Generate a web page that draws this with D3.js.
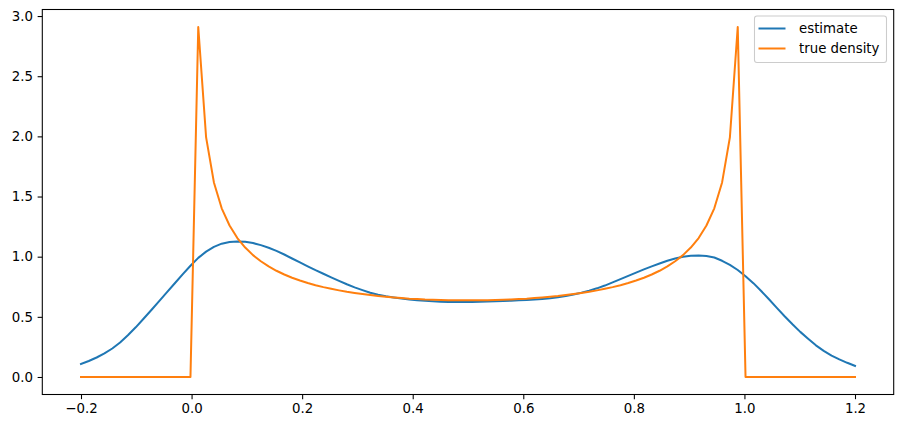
<!DOCTYPE html>
<html>
<head>
<meta charset="utf-8">
<script src="https://cdn.jsdelivr.net/npm/d3@7"></script>
<style>
  html, body { margin: 0; padding: 0; background: #fff; }
  svg { display: block; font-family: "DejaVu Sans", sans-serif; }
</style>
</head>
<body>
<svg id="chart" width="904" height="428"></svg>
<script>
// ---- data ----
const xGrid = [-0.2000,-0.1859,-0.1717,-0.1576,-0.1434,-0.1293,-0.1152,-0.1010,-0.0869,-0.0727,
  -0.0586,-0.0444,-0.0303,-0.0162,-0.0020,0.0121,0.0263,0.0404,0.0545,0.0687,
  0.0828,0.0970,0.1111,0.1253,0.1394,0.1535,0.1677,0.1818,0.1960,0.2101,
  0.2242,0.2384,0.2525,0.2667,0.2808,0.2949,0.3091,0.3232,0.3374,0.3515,
  0.3657,0.3798,0.3939,0.4081,0.4222,0.4364,0.4505,0.4646,0.4788,0.4929,
  0.5071,0.5212,0.5354,0.5495,0.5636,0.5778,0.5919,0.6061,0.6202,0.6343,
  0.6485,0.6626,0.6768,0.6909,0.7051,0.7192,0.7333,0.7475,0.7616,0.7758,
  0.7899,0.8040,0.8182,0.8323,0.8465,0.8606,0.8747,0.8889,0.9030,0.9172,
  0.9313,0.9455,0.9596,0.9737,0.9879,1.0020,1.0162,1.0303,1.0444,1.0586,
  1.0727,1.0869,1.1010,1.1152,1.1293,1.1434,1.1576,1.1717,1.1859,1.2000];

const estimate = [0.108,0.133,0.162,0.196,0.237,0.287,0.347,0.413,0.484,0.557,
  0.631,0.705,0.779,0.853,0.925,0.990,1.042,1.082,1.108,1.122,
  1.127,1.124,1.113,1.096,1.074,1.048,1.018,0.985,0.952,0.920,
  0.888,0.858,0.828,0.799,0.771,0.745,0.722,0.700,0.683,0.671,
  0.661,0.652,0.644,0.638,0.633,0.629,0.626,0.624,0.623,0.623,
  0.623,0.625,0.627,0.629,0.631,0.634,0.637,0.640,0.644,0.649,
  0.655,0.663,0.673,0.686,0.701,0.718,0.737,0.760,0.786,0.813,
  0.841,0.868,0.894,0.919,0.943,0.966,0.985,0.999,1.008,1.010,
  1.005,0.993,0.966,0.932,0.889,0.838,0.780,0.715,0.646,0.575,
  0.505,0.438,0.375,0.318,0.263,0.217,0.178,0.146,0.118,0.092];

const trueDensity = [0,0,0,0,0,0,0,0,0,0,
  0,0,0,0,0,2.909,1.991,1.617,1.402,1.259,
  1.155,1.076,1.013,0.962,0.919,0.883,0.852,0.825,0.802,0.781,
  0.763,0.747,0.733,0.720,0.708,0.698,0.689,0.681,0.673,0.667,
  0.661,0.656,0.651,0.648,0.644,0.642,0.640,0.638,0.637,0.637,
  0.637,0.637,0.638,0.640,0.642,0.644,0.648,0.651,0.656,0.661,
  0.667,0.673,0.681,0.689,0.698,0.708,0.720,0.733,0.747,0.763,
  0.781,0.802,0.825,0.852,0.883,0.919,0.962,1.013,1.076,1.155,
  1.259,1.402,1.617,1.991,2.909,0,0,0,0,0,
  0,0,0,0,0,0,0,0,0,0];

const xTicks = [-0.2, 0.0, 0.2, 0.4, 0.6, 0.8, 1.0, 1.2];
const yTicks = [0.0, 0.5, 1.0, 1.5, 2.0, 2.5, 3.0];
const seriesNames = ["estimate", "true density"];
const seriesColors = ["#1f77b4", "#ff7f0e"];

// ---- layout ----
const svg = d3.select("#chart");
const L = 42.3, R = 893.7, T = 9.5, B = 394.5;

const x = d3.scaleLinear().domain([-0.27, 1.27]).range([L, R]);
const y = d3.scaleLinear().domain([-0.1455, 3.0545]).range([B, T]);

const fmt = v => d3.format(".1f")(v).replace("-", "\u2212");

// lines
const line = d3.line().x(d => x(d[0])).y(d => y(d[1]));
const series = [estimate, trueDensity];
series.forEach((vals, i) => {
  svg.append("path")
    .datum(xGrid.map((xv, j) => [xv, vals[j]]))
    .attr("fill", "none")
    .attr("stroke", seriesColors[i])
    .attr("stroke-width", 2)
    .attr("stroke-linejoin", "round")
    .attr("stroke-linecap", "square")
    .attr("d", line);
});

// axes
const xAxis = d3.axisBottom(x).tickValues(xTicks).tickFormat(fmt).tickSize(4.67).tickPadding(4.67);
const yAxis = d3.axisLeft(y).tickValues(yTicks).tickFormat(fmt).tickSize(4.67).tickPadding(4.67);

const gx = svg.append("g").attr("transform", `translate(0,${B})`).call(xAxis);
const gy = svg.append("g").attr("transform", `translate(${L},0)`).call(yAxis);
[gx, gy].forEach(g => {
  g.select(".domain").remove();
  g.selectAll(".tick line").attr("stroke", "#000").attr("stroke-width", 1.07);
  g.selectAll(".tick text").attr("fill", "#000").style("font-size", "13.33px")
    .style("font-family", "'DejaVu Sans', sans-serif");
});

// frame
svg.append("rect")
  .attr("x", L).attr("y", T).attr("width", R - L).attr("height", B - T)
  .attr("fill", "none").attr("stroke", "#000").attr("stroke-width", 1.07);

// legend
const lg = svg.append("g");
lg.append("rect")
  .attr("x", 754.5).attr("y", 16).attr("width", 132).attr("height", 46.5)
  .attr("rx", 2.5).attr("ry", 2.5)
  .attr("fill", "#fff").attr("fill-opacity", 0.8)
  .attr("stroke", "#cccccc").attr("stroke-width", 1.07);
seriesNames.forEach((name, i) => {
  const yy = 28.5 + i * 20;
  lg.append("line")
    .attr("x1", 758.5).attr("x2", 785.5).attr("y1", yy).attr("y2", yy)
    .attr("stroke", seriesColors[i]).attr("stroke-width", 2);
  lg.append("text")
    .attr("x", 799).attr("y", yy + 4.7)
    .attr("fill", "#000")
    .style("font-size", "13.33px")
    .style("font-family", "'DejaVu Sans', sans-serif")
    .text(name);
});
</script>
</body>
</html>
